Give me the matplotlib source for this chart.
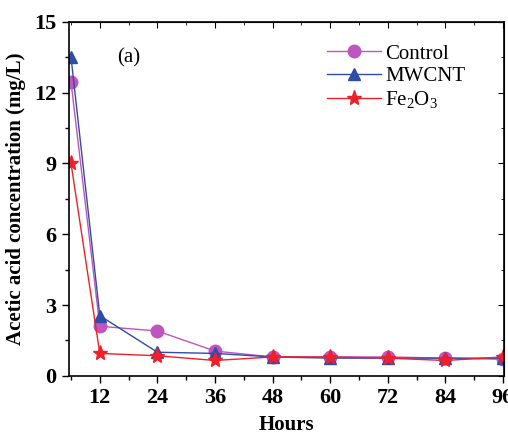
import matplotlib
matplotlib.use("Agg")
import matplotlib.pyplot as plt

hours = [6, 12, 24, 36, 48, 60, 72, 84, 96]
control = [12.45, 2.1, 1.9, 1.05, 0.8, 0.8, 0.8, 0.75, 0.7]
mwcnt = [13.5, 2.55, 1.0, 0.95, 0.8, 0.75, 0.75, 0.75, 0.75]
fe2o3 = [9.0, 0.95, 0.85, 0.65, 0.8, 0.8, 0.75, 0.65, 0.8]
xticks = [12, 24, 36, 48, 60, 72, 84, 96]
yticks = [0, 3, 6, 9, 12, 15]

plt.rcParams["font.family"] = "Liberation Serif"
plt.rcParams["mathtext.fontset"] = "custom"
plt.rcParams["mathtext.rm"] = "Liberation Serif"

fig = plt.figure(figsize=(5.08, 4.36), dpi=100)
ax = fig.add_axes([0.136, 0.138, 0.856, 0.812])

ax.plot(hours, control, color="#BF55BF", marker="o", markersize=9, lw=1, label="Control")
ax.plot(hours, mwcnt, color="#2F4CA8", marker="^", markersize=9, lw=1, label="MWCNT")
ax.plot(hours, fe2o3, color="#F0202A", marker="*", markersize=11, lw=1, label="Fe$_2$O$_3$")

ax.set_xlim(5.6, 96.2)
ax.set_ylim(0, 15)
ax.set_xticks(xticks)
ax.set_yticks(yticks)
ax.set_xticks(range(6, 97, 6), minor=True)
ax.set_yticks([1.5 + 3 * i for i in range(5)], minor=True)
ax.tick_params(axis="both", which="major", labelsize=16, length=5, width=1,
               direction="out", top=False, right=False, pad=4)
ax.tick_params(axis="both", which="minor", length=3, width=1, direction="out",
               top=False, right=False)
for lab in ax.get_xticklabels() + ax.get_yticklabels():
    lab.set_fontweight("bold")

ax2 = ax.secondary_xaxis("top")
ax2.set_xticks(xticks)
ax2.set_xticks(range(6, 97, 6), minor=True)
ax2.tick_params(which="major", direction="in", length=4, labeltop=False)
ax2.tick_params(which="minor", direction="in", length=2)
ax3 = ax.secondary_yaxis("right")
ax3.set_yticks(yticks)
ax3.set_yticks([1.5 + 3 * i for i in range(5)], minor=True)
ax3.tick_params(which="major", direction="in", length=4, labelright=False)
ax3.tick_params(which="minor", direction="in", length=2)

for s in ax.spines.values():
    s.set_linewidth(1.2)

ax.set_xlabel("Hours", fontsize=15, fontweight="bold", labelpad=5)
ax.set_ylabel("Acetic acid concentration (mg/L)", fontsize=15, fontweight="bold", labelpad=6)

ax.text(0.11, 0.885, "(a)", transform=ax.transAxes, fontsize=15)

ax.legend(loc="upper right", bbox_to_anchor=(0.955, 0.99), frameon=False, fontsize=15,
          handlelength=2.6, handletextpad=0.2, labelspacing=0.15)

fig.savefig("out.png", dpi=100)
